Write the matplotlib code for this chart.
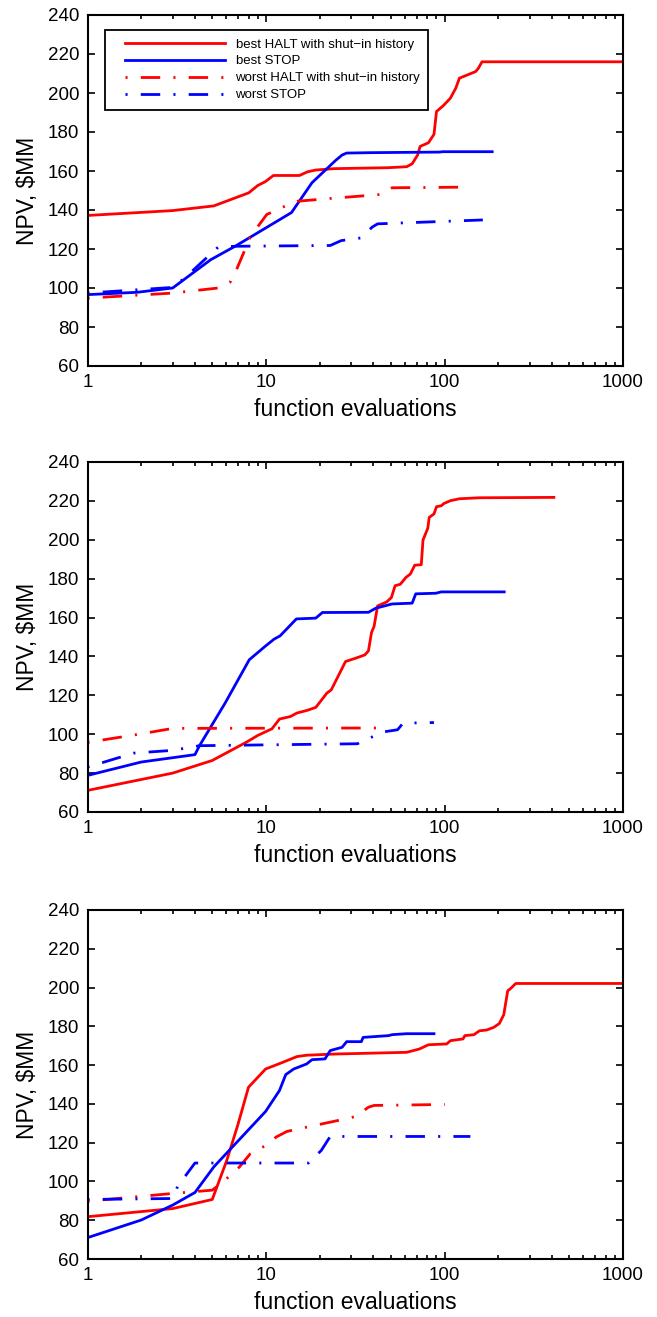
import matplotlib
matplotlib.use("Agg")
import numpy as np
import matplotlib.pyplot as plt
from matplotlib.lines import Line2D
from matplotlib.legend_handler import HandlerLine2D
from matplotlib.ticker import FixedLocator, FixedFormatter, LogLocator, NullFormatter

plt.rcParams['font.family'] = ['Liberation Sans', 'DejaVu Sans']
plt.rcParams['lines.scale_dashes'] = False

# ---------------- Panel 1 ----------------
p1_best_halt_x = [1, 3, 5.1, 8, 9, 9.9, 11, 15.4, 17.1, 19, 24, 48.5, 61.4, 65.9, 70.7, 73, 81.3, 87.3, 90.2, 98.2, 107.8, 115.7, 121.2, 149.5, 154.6, 162.2, 1000]
p1_best_halt_y = [137.2, 139.7, 142.1, 148.8, 152.6, 154.5, 157.7, 157.7, 159.6, 160.5, 161.2, 161.7, 162.2, 163.7, 168.2, 172.6, 174.5, 178.8, 190.5, 193.4, 197.3, 202.5, 207.6, 211.0, 212.6, 216.0, 216.0]
p1_best_stop_x = [1, 1.9, 3, 4.9, 6.8, 13.9, 18.1, 24.6, 26.7, 28.3, 38.5, 93.6, 98, 185]
p1_best_stop_y = [96.6, 97.8, 100.0, 114.5, 121.7, 138.7, 154.0, 165.5, 168.2, 169.2, 169.4, 169.7, 169.9, 169.9]
p1_worst_halt_x = [1, 3, 5.4, 6.3, 6.9, 8.2, 10.1, 12.8, 15, 22.9, 44.3, 50.9, 121]
p1_worst_halt_y = [94.8, 97.4, 100.0, 103.0, 110.3, 126.5, 137.7, 142.0, 144.5, 145.9, 148.0, 151.4, 151.7]
p1_worst_stop_x = [1, 3, 3.5, 5.4, 6.8, 22.9, 26.4, 34.2, 39.3, 42.2, 164]
p1_worst_stop_y = [97.4, 100.3, 105.1, 121.0, 121.4, 121.8, 124.3, 125.7, 131.2, 132.9, 134.9]

# ---------------- Panel 2 ----------------
p2_best_halt_x = [1, 3, 5, 7.8, 9, 10.8, 11.9, 13.7, 14.9, 16.9, 19, 20.4, 21.9, 23.2, 27.9, 31.8, 35.8, 37.5, 39, 40.3, 42.2, 47.4, 50.4, 52.9, 56.5, 60.9, 64.4, 68.1, 74.1, 75.8, 80.6, 82.1, 87.3, 90.2, 95.9, 99.5, 107.9, 121.2, 157, 410]
p2_best_halt_y = [71.1, 80.0, 86.5, 96.0, 99.4, 102.8, 107.8, 109.1, 110.9, 112.2, 113.8, 117.4, 121.1, 122.8, 137.4, 139.1, 140.8, 142.9, 152.3, 155.4, 166.0, 168.0, 170.3, 176.4, 177.1, 180.7, 182.4, 186.9, 187.2, 199.9, 205.9, 211.5, 213.3, 217.0, 217.5, 218.7, 220.1, 221.1, 221.6, 221.8]
p2_best_stop_x = [1, 2, 4, 4.24, 5.9, 8.06, 9.86, 11.1, 12, 14.8, 19, 20.7, 37.5, 41.2, 50.9, 65.9, 69, 89.4, 95.9, 216]
p2_best_stop_y = [78.8, 85.7, 89.5, 94.1, 116.0, 138.3, 145.1, 148.9, 150.6, 159.3, 159.7, 162.6, 162.7, 164.8, 167.0, 167.4, 172.2, 172.5, 173.2, 173.2]
p2_worst_halt_x = [1, 2, 3, 43.2]
p2_worst_halt_y = [95.8, 100.2, 103.0, 103.2]
p2_worst_stop_x = [1, 1.82, 3, 4.24, 32.6, 34.2, 46.3, 54.6, 58.6, 87.3]
p2_worst_stop_y = [83.1, 90.3, 91.7, 94.1, 95.1, 96.3, 101.3, 102.3, 105.7, 106.0]

# ---------------- Panel 3 ----------------
p3_best_halt_x = [1, 3, 5, 6.03, 6.94, 7.98, 9.95, 12, 14.9, 16.9, 24, 61.4, 72.3, 81.3, 102.8, 107.9, 127, 130, 146.2, 157, 172.3, 189, 203, 214.8, 226, 236, 250.6, 1000]
p3_best_halt_y = [81.8, 86.0, 90.7, 110.9, 128.9, 148.6, 158.0, 160.9, 164.4, 165.1, 165.7, 166.6, 168.3, 170.5, 170.9, 172.6, 173.5, 175.2, 175.7, 177.7, 178.1, 179.5, 181.5, 186.0, 198.3, 199.7, 202.1, 202.1]
p3_best_stop_x = [1, 2, 3, 4, 5.1, 9.95, 11.9, 12.9, 14.3, 16.9, 18.1, 21.4, 22.9, 26.7, 28.3, 34.2, 35, 48.5, 50.9, 61.4, 87.3]
p3_best_stop_y = [71.0, 80.1, 87.8, 94.3, 107.5, 136.1, 146.9, 155.1, 158.0, 160.6, 162.8, 163.2, 167.5, 169.2, 172.1, 172.1, 174.3, 175.2, 175.7, 176.2, 176.2]
p3_worst_halt_x = [1, 3, 5, 6.17, 7.1, 8.17, 9.86, 11.4, 13.1, 16.9, 26.4, 31.8, 37.5, 40.3, 100.5]
p3_worst_halt_y = [89.8, 93.8, 95.5, 102.3, 107.5, 114.3, 118.3, 122.9, 125.8, 128.0, 131.8, 133.5, 138.3, 139.2, 139.7]
p3_worst_stop_x = [1, 3, 3.2, 4, 17.3, 20.4, 22.9, 139.6]
p3_worst_stop_y = [90.7, 91.2, 97.5, 109.5, 109.5, 116.0, 123.2, 123.2]

legend_labels = ["best HALT with shut\u2212in history", "best STOP",
                 "worst HALT with shut\u2212in history", "worst STOP"]
x_ticks = [1, 10, 100, 1000]
x_tick_labels = ["1", "10", "100", "1000"]
y_ticks = [60, 80, 100, 120, 140, 160, 180, 200, 220, 240]

panels = [
    (p1_best_halt_x, p1_best_halt_y, p1_best_stop_x, p1_best_stop_y,
     p1_worst_halt_x, p1_worst_halt_y, p1_worst_stop_x, p1_worst_stop_y),
    (p2_best_halt_x, p2_best_halt_y, p2_best_stop_x, p2_best_stop_y,
     p2_worst_halt_x, p2_worst_halt_y, p2_worst_stop_x, p2_worst_stop_y),
    (p3_best_halt_x, p3_best_halt_y, p3_best_stop_x, p3_best_stop_y,
     p3_worst_halt_x, p3_worst_halt_y, p3_worst_stop_x, p3_worst_stop_y),
]


class InsetLine(HandlerLine2D):
    """Legend line handle that leaves a small gap at its left end (MATLAB look)."""
    def get_xdata(self, legend, xdescent, ydescent, width, height, fontsize):
        inset = 0.86 * fontsize
        xdata = np.array([-xdescent + inset, -xdescent + width])
        return xdata, np.array([xdata.mean()])


W, H = 657, 1317
fig = plt.figure(figsize=(W / 100, H / 100), dpi=100)

axes_pix = [(15, 366), (462, 812), (910, 1259)]
left_px, right_px = 87.5, 623

lw = 2.0
dashdot = (23.5, (14.0, 9.5, 1.5, 9.5))

for (top, bot), data in zip(axes_pix, panels):
    ax = fig.add_axes([left_px / W, 1 - bot / H, (right_px - left_px) / W, (bot - top) / H])
    bhx, bhy, bsx, bsy, whx, why, wsx, wsy = data
    l1, = ax.plot(bhx, bhy, color=(1, 0, 0), lw=lw, solid_joinstyle='round')
    l2, = ax.plot(bsx, bsy, color=(0, 0, 1), lw=lw, solid_joinstyle='round')
    l3, = ax.plot(whx, why, color=(1, 0, 0), lw=lw, linestyle=dashdot)
    l4, = ax.plot(wsx, wsy, color=(0, 0, 1), lw=lw, linestyle=dashdot)
    ax.set_xscale('log')
    ax.set_xlim(1, 1000)
    ax.set_ylim(60, 240)
    ax.xaxis.set_major_locator(FixedLocator(x_ticks))
    ax.xaxis.set_major_formatter(FixedFormatter(x_tick_labels))
    ax.xaxis.set_minor_locator(LogLocator(base=10, subs=range(2, 10)))
    ax.xaxis.set_minor_formatter(NullFormatter())
    ax.yaxis.set_major_locator(FixedLocator(y_ticks))
    ax.tick_params(which='both', direction='in', top=True, right=True, labelsize=13.5,
                   width=1.2, colors='black')
    ax.tick_params(which='major', length=5, pad=6)
    ax.tick_params(which='minor', length=3)
    for s in ax.spines.values():
        s.set_linewidth(1.5)
    ax.set_xlabel("function evaluations", fontsize=16.5, labelpad=5)
    ax.set_ylabel("NPV, \\$MM", fontsize=16.5, labelpad=6)
    if top == 15:
        leg = ax.legend([l1, l2, l3, l4], legend_labels, loc='upper left',
                        bbox_to_anchor=(0.0327, 0.957), fontsize=9.5,
                        handlelength=8.44, handletextpad=0.83, labelspacing=0.36,
                        borderpad=0.62, borderaxespad=0, fancybox=False,
                        edgecolor='black', framealpha=1,
                        handler_map={Line2D: InsetLine()})
        leg.get_frame().set_linewidth(1.3)

fig.savefig("out.png", dpi=100)
